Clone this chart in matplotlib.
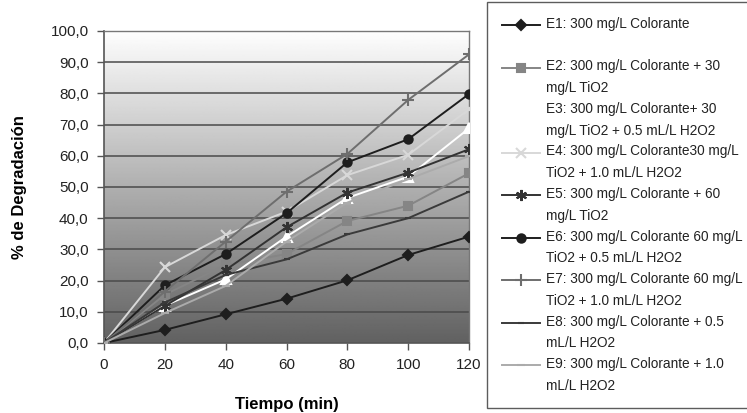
import numpy as np
import matplotlib
matplotlib.use("Agg")
import matplotlib.pyplot as plt
from matplotlib.legend_handler import HandlerLine2D

plt.rcParams['font.family'] = ['Liberation Sans', 'DejaVu Sans']

tiempo = [0, 20, 40, 60, 80, 100, 120]

e1 = [0, 4.2, 9.2, 14.2, 20.1, 28.2, 34.1]
e2 = [0, 15.5, 25.0, 28.5, 39.1, 44.0, 54.4]
e3 = [0, 12.0, 20.4, 34.1, 46.5, 53.3, 68.8]
e4 = [0, 24.3, 34.6, 42.1, 53.8, 60.3, 74.9]
e5 = [0, 11.9, 23.4, 37.1, 48.2, 54.6, 62.1]
e6 = [0, 18.5, 28.5, 41.6, 57.9, 65.3, 79.8]
e7 = [0, 16.5, 32.5, 48.5, 60.6, 77.9, 92.5]
e8 = [0, 13.0, 21.8, 26.8, 34.8, 40.0, 48.5]
e9 = [0, 9.6, 18.3, 32.5, 45.0, 52.5, 59.9]

etiquetas = [
    "E1: 300 mg/L Colorante\n ",
    "E2: 300 mg/L Colorante + 30\nmg/L TiO2",
    "E3: 300 mg/L Colorante+ 30\nmg/L TiO2 + 0.5 mL/L H2O2",
    "E4: 300 mg/L Colorante30 mg/L\nTiO2 + 1.0 mL/L H2O2",
    "E5: 300 mg/L Colorante + 60\nmg/L TiO2",
    "E6: 300 mg/L Colorante 60 mg/L\nTiO2 + 0.5 mL/L H2O2",
    "E7: 300 mg/L Colorante 60 mg/L\nTiO2 + 1.0 mL/L H2O2",
    "E8: 300 mg/L Colorante + 0.5\nmL/L H2O2",
    "E9: 300 mg/L Colorante + 1.0\nmL/L H2O2",
]

series = [e1, e2, e3, e4, e5, e6, e7, e8, e9]
colores = ["#1e1e1e", "#858585", "#ffffff", "#d8d8d8", "#333333",
           "#1e1e1e", "#6e6e6e", "#3a3a3a", "#ababab"]
marcadores = ["D", "s", "^", "x", (6, 2, 0), "o", "+", "_", "_"]
tamanos = [5, 6, 7, 7, 8, 6, 9, 5, 6]


class PrimeraLinea(HandlerLine2D):
    # sube el simbolo hasta la primera linea del texto
    def __init__(self, desp, **kw):
        super().__init__(**kw)
        self.desp = desp

    def create_artists(self, legend, orig_handle, xdescent, ydescent,
                       width, height, fontsize, trans):
        arts = super().create_artists(legend, orig_handle, xdescent, ydescent,
                                      width, height, fontsize, trans)
        for a in arts:
            a.set_ydata(np.asarray(a.get_ydata(), dtype=float) + self.desp)
        return arts


fig = plt.figure(figsize=(7.47, 4.13), dpi=100)
ax = fig.add_axes([104 / 747, 70 / 413, 365 / 747, 312 / 413])

# fondo degradado
grad = np.linspace(0.38, 0.995, 256).reshape(-1, 1)
ax.imshow(grad, cmap="gray", vmin=0, vmax=1, origin="lower", aspect="auto",
          extent=[0, 120, 0, 100], zorder=0)

for y in range(10, 101, 10):
    ax.axhline(y, color="#4a4a4a", lw=1.1, zorder=1)

lineas = []
for s, lab, c, m, ms in zip(series, etiquetas, colores, marcadores, tamanos):
    l, = ax.plot(tiempo, s, color=c, marker=m, markersize=ms, lw=1.4,
                 markeredgewidth=1.5, label=lab, zorder=3)
    lineas.append(l)

ax.set_xlim(0, 120)
ax.set_ylim(0, 100)
ax.set_xticks(tiempo)
ax.set_yticks(range(0, 101, 10))
ax.set_yticklabels([f"{v:.1f}".replace(".", ",") for v in range(0, 101, 10)])
ax.tick_params(direction="out", length=5, width=1, color="#555555",
               labelsize=11, labelcolor="#222222", pad=6)
for sp in ["left", "bottom"]:
    ax.spines[sp].set_color("#555555")
    ax.spines[sp].set_linewidth(1.2)
for sp in ["right", "top"]:
    ax.spines[sp].set_color("#777777")
    ax.spines[sp].set_linewidth(1.0)

ax.set_xlabel("Tiempo (min)", fontsize=12, fontweight="bold", labelpad=18)
ax.set_ylabel("% de Degradación", fontsize=12, fontweight="bold", labelpad=17)

mapa = {l: PrimeraLinea(7.5) for l in lineas}
leg = fig.legend(loc="upper left", bbox_to_anchor=(487 / 747, 1 - 2 / 413),
                 borderaxespad=0, fontsize=9.8, frameon=True, fancybox=False,
                 edgecolor="#333333", handlelength=2.8, handletextpad=0.4,
                 labelspacing=0.5, borderpad=1.1, handler_map=mapa)
leg.get_frame().set_linewidth(1.0)
for t in leg.get_texts():
    t.set_linespacing(1.7)
    t.set_color("#222222")

fig.savefig("out.png", dpi=100)
